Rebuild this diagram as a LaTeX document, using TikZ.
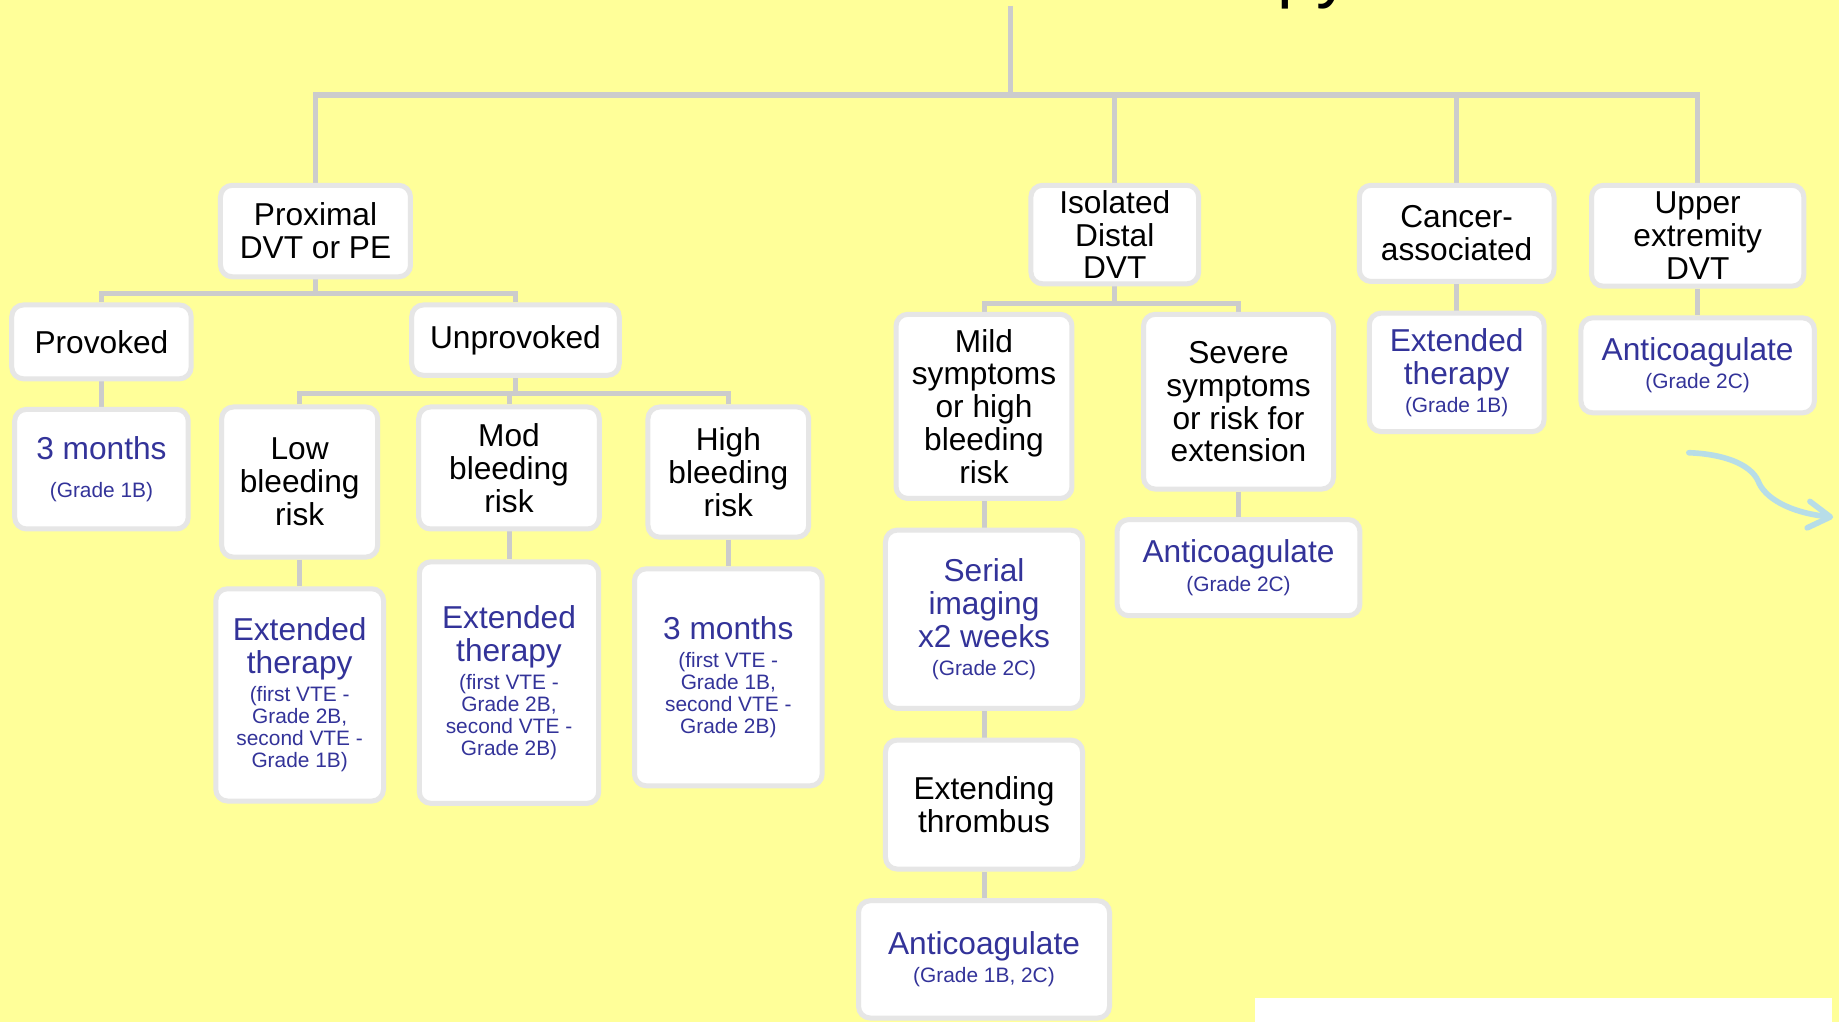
\documentclass[tikz,border=0pt]{standalone}
\usepackage{fontspec}
\setmainfont{Liberation Sans}
\usetikzlibrary{arrows.meta,backgrounds}

\definecolor{slideyellow}{RGB}{255,255,153}
\definecolor{linkgray}{RGB}{204,204,204}
\definecolor{cardgray}{RGB}{230,230,230}
\definecolor{adviceblue}{RGB}{51,51,153}
\definecolor{swooshblue}{RGB}{183,221,232}

\newcommand{\gradetxt}[1]{{\fontsize{13.35}{14}\selectfont #1}}

\tikzset{every picture/.style={line width=0.75pt}}
\tikzset{
  card/.style={draw=cardgray, line width=3.2pt, fill=white, rounded corners=7.5pt,
    align=center, inner sep=0pt, font=\fontsize{20.25}{21}\selectfont},
  advice/.style={card, text=adviceblue},
  link/.style={draw=linkgray, line width=3.2pt},
  swoosh/.style={draw=swooshblue, line width=3.6pt, line cap=round,
    -{Straight Barb[length=14pt,width=17pt,round]}},
}

\begin{document}
\begin{tikzpicture}[x=0.75pt,y=0.75pt,yscale=-1,xscale=1]
\useasboundingbox (0,0) rectangle (1568,871);

% Title (only the descenders are left in the frame)
\node[anchor=base west, inner sep=0pt, font=\fontsize{45}{50}\selectfont] (title) at (1089,-5) {py};

%Shape: Rounded Rectangle -- first level
\node[card, minimum width=121.5pt, minimum height=58.5pt] (prox) at (269,197) {Proximal\\DVT or PE};
\node[card, minimum width=107.25pt, minimum height=63pt] (iso) at (950.5,200) {Isolated\\Distal\\DVT};
\node[card, minimum width=124.5pt, minimum height=61.5pt] (canc) at (1242,199) {Cancer-\\associated};
\node[card, minimum width=135.75pt, minimum height=64.5pt] (upper) at (1447.5,201) {Upper\\extremity\\DVT};

%Shape: Rounded Rectangle -- proximal branch
\node[card, minimum width=114.75pt, minimum height=47.25pt] (prov) at (86.5,291.5) {Provoked};
\node[card, minimum width=132.75pt, minimum height=45pt] (unprov) at (439.5,290) {Unprovoked};
\node[advice, minimum width=111pt, minimum height=76.5pt] (mon3) at (86.5,400) {3 months\\[3pt]\gradetxt{(Grade 1B)}};
\node[card, minimum width=99.75pt, minimum height=96pt] (low) at (255.5,411) {Low\\bleeding\\risk};
\node[card, minimum width=115.5pt, minimum height=78pt] (mod) at (434,399) {Mod\\bleeding\\risk};
\node[card, minimum width=102.75pt, minimum height=83.25pt] (high) at (621,402.5) {High\\bleeding\\risk};
\node[advice, minimum width=107.25pt, minimum height=135.75pt] (extlow) at (255.5,592.5)
  {Extended\\therapy\\[-3pt]\gradetxt{(first VTE -}\\[-7pt]\gradetxt{Grade 2B,}\\[-7pt]\gradetxt{second VTE -}\\[-7pt]\gradetxt{Grade 1B)}};
\node[advice, minimum width=114.75pt, minimum height=154.5pt] (extmod) at (434,582)
  {Extended\\therapy\\[-3pt]\gradetxt{(first VTE -}\\[-7pt]\gradetxt{Grade 2B,}\\[-7pt]\gradetxt{second VTE -}\\[-7pt]\gradetxt{Grade 2B)}};
\node[advice, minimum width=120pt, minimum height=138.75pt] (monhigh) at (621,577.5)
  {3 months\\[-3pt]\gradetxt{(first VTE -}\\[-7pt]\gradetxt{Grade 1B,}\\[-7pt]\gradetxt{second VTE -}\\[-7pt]\gradetxt{Grade 2B)}};

%Shape: Rounded Rectangle -- distal branch
\node[card, minimum width=112.5pt, minimum height=117.75pt] (mild) at (839,346.5) {Mild\\symptoms\\or high\\bleeding\\risk};
\node[card, minimum width=121.5pt, minimum height=111.75pt] (severe) at (1056,342.5) {Severe\\symptoms\\or risk for\\extension};
\node[advice, minimum width=126pt, minimum height=114pt] (serial) at (839,528) {Serial\\imaging\\x2 weeks\\[-3pt]\gradetxt{(Grade 2C)}};
\node[advice, minimum width=155.25pt, minimum height=61.5pt] (antisev) at (1056,484) {Anticoagulate\\[-3pt]\gradetxt{(Grade 2C)}};
\node[card, minimum width=126pt, minimum height=82.5pt] (extthr) at (839,686) {Extending\\thrombus};
\node[advice, minimum width=160.5pt, minimum height=75pt] (antiext) at (839,818) {Anticoagulate\\[-3pt]\gradetxt{(Grade 1B, 2C)}};

%Shape: Rounded Rectangle -- cancer and upper extremity
\node[advice, minimum width=111.75pt, minimum height=75.75pt] (extcanc) at (1242,317.5) {Extended\\therapy\\[-3pt]\gradetxt{(Grade 1B)}};
\node[advice, minimum width=149.25pt, minimum height=60.75pt] (antiup) at (1447.5,311.5) {Anticoagulate\\[-3pt]\gradetxt{(Grade 2C)}};

%Shape: Rectangle -- white strip of the next slide
\fill[white] (1070,851) rectangle (1562,880);

%Curve Lines
\coordinate (swoosh start) at (1440,386);
\coordinate (swoosh end) at (1563,441);
\draw[swoosh] (swoosh start) .. controls (1468,387) and (1492,395) .. (1499,410) .. controls (1504,424) and (1525,437) .. (swoosh end);

\begin{scope}[on background layer]
  \fill[slideyellow] (0,0) rectangle (1568,871);
  %Straight Lines
  \coordinate (root) at (862,5);
  \coordinate (bus) at (862,81);
  \draw[link] (root) -- (bus) -| (prox.north);
  \draw[link] (bus) -| (iso.north);
  \draw[link] (bus) -| (canc.north);
  \draw[link] (bus) -| (upper.north);
  \draw[link] (prox.south) -- ++(0,12) -| (prov.north);
  \draw[link] (prox.south) -- ++(0,12) -| (unprov.north);
  \draw[link] (prov.south) -- (mon3.north);
  \draw[link] (unprov.south) -- ++(0,13) -| (low.north);
  \draw[link] (unprov.south) -- ++(0,13) -| (mod.north);
  \draw[link] (unprov.south) -- ++(0,13) -| (high.north);
  \draw[link] (low.south) -- (extlow.north);
  \draw[link] (mod.south) -- (extmod.north);
  \draw[link] (high.south) -- (monhigh.north);
  \draw[link] (iso.south) -- ++(0,15) -| (mild.north);
  \draw[link] (iso.south) -- ++(0,15) -| (severe.north);
  \draw[link] (mild.south) -- (serial.north);
  \draw[link] (serial.south) -- (extthr.north);
  \draw[link] (extthr.south) -- (antiext.north);
  \draw[link] (severe.south) -- (antisev.north);
  \draw[link] (canc.south) -- (extcanc.north);
  \draw[link] (upper.south) -- (antiup.north);
\end{scope}

\end{tikzpicture}
\end{document}
